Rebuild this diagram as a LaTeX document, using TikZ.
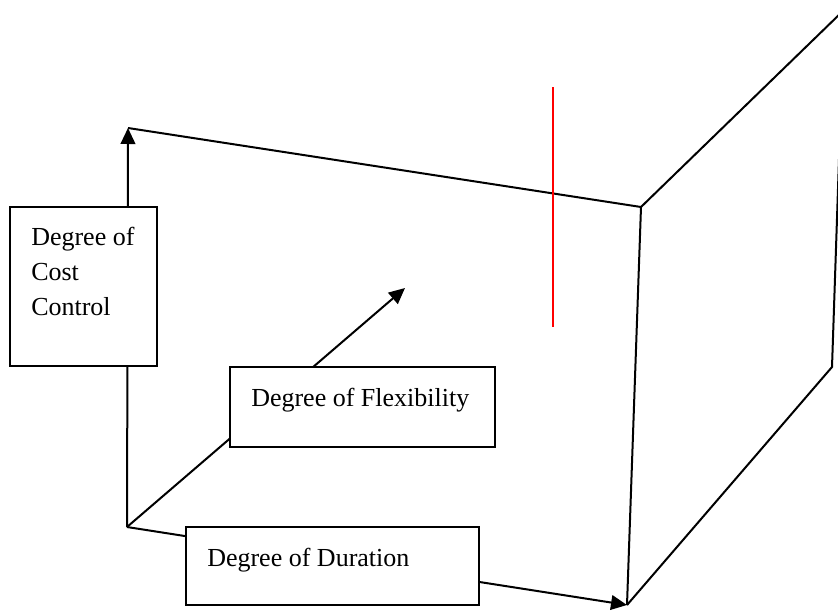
\documentclass[tikz,border=0pt]{standalone}
\usepackage{fontspec}
\setmainfont{Liberation Serif}
\usepackage{tikz}
\usetikzlibrary{arrows.meta, positioning}

\begin{document}
\begin{tikzpicture}[
        x=0.75pt, y=-0.75pt,
        box/.style={rectangle, draw=black, fill=white, line width=1.5pt, inner sep=0pt},
        label/.style={inner sep=0pt, font=\fontsize{19.5pt}{26.25pt}\selectfont, align=left},
        arrow/.style={line width=1.5pt, -{Triangle[length=12pt, width=11pt]}},
        edge/.style={line width=1.5pt, line join=miter}
        ]
        \useasboundingbox (0,0) rectangle (838,610);
        \clip (0,0) rectangle (838,610);

        \coordinate (origin) at (127,527);
        \coordinate (costtip) at (128,128);
        \coordinate (flextip) at (405,288);
        \coordinate (durtip) at (627,605);
        \coordinate (fronttop) at (641,207);
        \coordinate (backtop) at (844,10);
        \coordinate (backbot) at (832,367);

        \draw [edge] (costtip) -- (fronttop) -- (durtip);
        \draw [edge] (fronttop) -- (backtop) -- (backbot) -- (durtip);
        \draw [red, line width=1.5pt] (553,87) -- (553,327);

        \draw [arrow] (origin) -- (costtip);
        \draw [arrow] (origin) -- (flextip);
        \draw [arrow] (origin) -- (durtip);

        \node (costbox) [box, minimum width=110.25pt, minimum height=119.25pt] at (83.5,286.5) {};
        \node (flexbox) [box, minimum width=198.75pt, minimum height=60pt] at (362.5,407) {};
        \node (durbox) [box, minimum width=219.75pt, minimum height=58.5pt] at (332.5,566) {};

        \node (costtext) [label, anchor=north west] at (31,227) {Degree of\\Cost\\Control};
        \node (flextext) [label, anchor=base west] at (251,406) {Degree of Flexibility};
        \node (durtext) [label, anchor=base west] at (207,566) {Degree of Duration};
\end{tikzpicture}
\end{document}
